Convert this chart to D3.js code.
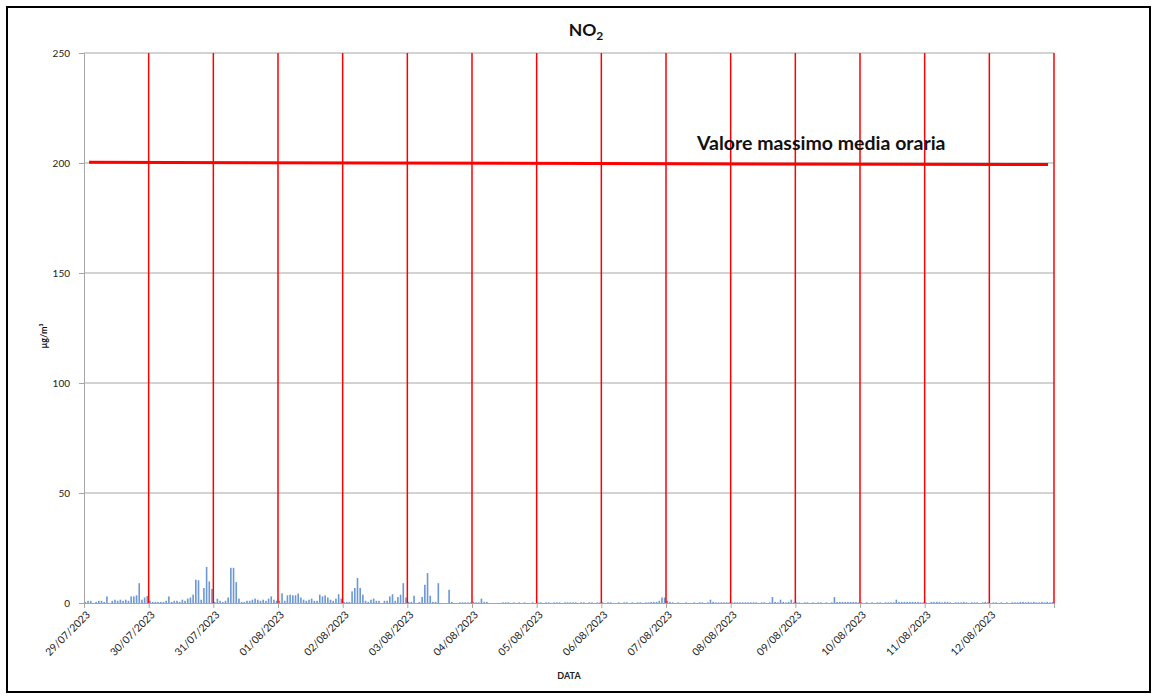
<!DOCTYPE html>
<html>
<head>
<meta charset="utf-8">
<script src="https://cdn.jsdelivr.net/npm/d3@7"></script>
<style>
  body { margin: 0; background: #fff; }
  svg text { font-family: Lato, "Open Sans", sans-serif; }
</style>
</head>
<body>
<div id="vis"></div>
<script>
'use strict';

// day labels on the x axis (one tick every midnight)
var days = ['29/07/2023','30/07/2023','31/07/2023','01/08/2023','02/08/2023','03/08/2023',
            '04/08/2023','05/08/2023','06/08/2023','07/08/2023','08/08/2023','09/08/2023',
            '10/08/2023','11/08/2023','12/08/2023'];

// hourly NO2 values (ug/m3), 24 per day, 0 = no bar
var hourly = [
  [0.5,1,1,0,0.5,1,1,0.5,3,0,1,1.5,1,1.5,1,1.5,1,3,3,3.5,9,1.5,2.5,3.2],
  [1,0.5,0.5,0.5,0.5,0.5,1,3,0.5,1,1,0.5,1.5,1,2,2.5,3.8,10.6,10.3,1.5,6.8,16.4,9.8,6.4],
  [0.5,2,1,0.5,1,2.5,16,16,9.5,2,0.5,0.5,1,1,1.5,2,1.5,1,1.5,1,2,3,1.5,1],
  [1,4.4,1,3.5,3.8,3.5,3.5,4.3,2.5,1.5,1,1.5,2,1,1,3.8,3,3.5,2.5,1.5,1,2,4,2],
  [0.5,0.5,0.5,5.3,6.8,11.4,6.8,3.8,1,0.5,1.5,2,1,1,0,1,1,3,4,1,2.7,3.8,9,2.5],
  [0.5,0.5,3.3,0,0.5,2.7,8.3,13.6,3.3,0.5,0.5,9,0,0,0,6,0.5,0,0,0.3,0.3,0.3,0.3,0.3],
  [0.5,0.3,0.3,2,0.5,0.5,0,0,0,0,0,0.3,0.3,0.3,0,0.3,0,0.3,0,0.3,0,0,0.3,0],
  [0.3,0.3,0,0.3,0.3,0,0.3,0.3,0.3,0,0.3,0.3,0.3,0.3,0.3,0,0.3,0.3,0,0.3,0.3,0,0.3,0.3],
  [0.3,0,0.3,0.3,0,0,0.3,0,0.3,0.3,0,0.3,0,0.3,0.3,0,0.3,0.3,0.5,0.5,0.5,1,2.5,2.5],
  [1,0.5,0.3,0,0.3,0,0,0.3,0,0,0.3,0,0.3,0.3,0,0.3,1.5,0.5,0.3,0.3,0.3,0.3,0.3,0.3],
  [0.3,0.3,0.3,0.3,0.3,0.3,0.3,0.3,0.3,0.3,0,0.3,0.3,0,0.3,2.7,0.5,0.3,1.5,0.5,0.3,0.5,1.5,0.3],
  [0.3,0.3,0,0.3,0.3,0,0.3,0,0.3,0.3,0,0.3,0,0.3,2.7,0.5,0.5,0.5,0.5,0.5,0.5,0.5,0.5,0.3],
  [0.3,0,0.3,0,0.3,0,0.3,0.3,0,0.3,0.3,0.3,0.3,1.5,0.5,0.5,0.5,0.5,0.5,0.5,0.5,0.5,0.3,0.3],
  [0.3,0,0.5,0.5,0.5,0.5,0.3,0.5,0.5,0.3,0,0.3,0.3,0.3,0.5,0.3,0,0.3,0.3,0.3,0,0.3,0.5,0.3],
  [0,0.3,0.3,0,0.3,0,0.3,0,0.3,0.3,0.3,0.5,0.5,0.3,0.5,0.3,0.5,0.3,0.3,0.5,0.3,0.5,0.3,0.5]
];

var yTicks = [0, 50, 100, 150, 200, 250];
var limitValues = [200.3, 199.3];   // "valore massimo media oraria" line (start, end)

var width = 1157, height = 698;
var margin = {top: 53, right: 103, bottom: 95, left: 84};

var svg = d3.select('#vis').append('svg')
  .attr('width', width)
  .attr('height', height);

// outer frame
svg.append('rect')
  .attr('x', 7).attr('y', 7)
  .attr('width', 1143).attr('height', 685)
  .attr('fill', 'none').attr('stroke', '#000').attr('stroke-width', 2);

var parse = d3.timeParse('%d/%m/%Y');
var dayDates = days.map(parse);
var start = dayDates[0];
var end = d3.timeDay.offset(dayDates[dayDates.length - 1], 1);

var x = d3.scaleTime().domain([start, end]).range([margin.left, width - margin.right]);
var y = d3.scaleLinear().domain([0, 250]).range([height - margin.bottom, margin.top]);

// horizontal grid
svg.append('g').selectAll('line')
  .data(yTicks.slice(1))
  .enter().append('line')
  .attr('x1', x.range()[0]).attr('x2', x.range()[1])
  .attr('y1', function(d){ return y(d); }).attr('y2', function(d){ return y(d); })
  .attr('stroke', '#a6a6a6').attr('stroke-width', 1);

// bars
var bars = [];
hourly.forEach(function(vals, di){
  vals.forEach(function(v, h){
    bars.push({t: d3.timeHour.offset(dayDates[di], h), v: v});
  });
});
var hourW = x(d3.timeHour.offset(start, 1)) - x(start);

svg.append('g').selectAll('rect')
  .data(bars.filter(function(d){ return d.v > 0; }))
  .enter().append('rect')
  .attr('x', function(d){ return x(d.t) + hourW * 0.2; })
  .attr('width', hourW * 0.6)
  .attr('y', function(d){ return y(d.v); })
  .attr('height', function(d){ return y(0) - y(d.v); })
  .attr('fill', '#6d98d3');

// red vertical day lines
var dayLines = dayDates.slice(1).concat([end]);
svg.append('g').selectAll('line')
  .data(dayLines)
  .enter().append('line')
  .attr('x1', function(d){ return x(d); }).attr('x2', function(d){ return x(d); })
  .attr('y1', y(250)).attr('y2', y(0))
  .attr('stroke', '#ff0000').attr('stroke-width', 1.5);

// y axis
var yAxis = d3.axisLeft(y).tickValues(yTicks).tickSize(5).tickPadding(9);
var gy = svg.append('g')
  .attr('transform', 'translate(' + margin.left + ',0)')
  .call(yAxis);
gy.select('.domain').attr('stroke', '#a6a6a6');
gy.selectAll('.tick line').attr('stroke', '#a6a6a6');
gy.selectAll('text').style('font-size', '10px').attr('fill', '#222');

// x axis
var xAxis = d3.axisBottom(x).tickValues(dayDates.concat([end]))
  .tickFormat(function(d){ return d < end ? d3.timeFormat('%d/%m/%Y')(d) : ''; })
  .tickSize(5).tickSizeOuter(0);
var gx = svg.append('g')
  .attr('transform', 'translate(0,' + y(0) + ')')
  .call(xAxis);
gx.select('.domain').attr('stroke', '#a6a6a6');
gx.selectAll('.tick line').attr('stroke', '#a6a6a6');
gx.selectAll('text')
  .style('font-size', '10.5px').attr('fill', '#222')
  .attr('text-anchor', 'end')
  .attr('transform', 'rotate(-45)')
  .attr('dx', '-0.4em').attr('dy', '0.5em');

// limit line
svg.append('line')
  .attr('x1', margin.left + 5).attr('x2', width - margin.right - 6)
  .attr('y1', y(limitValues[0])).attr('y2', y(limitValues[1]))
  .attr('stroke', '#ff0000').attr('stroke-width', 3);

svg.append('text')
  .attr('x', 697).attr('y', 150)
  .style('font-size', '19.5px').style('font-weight', 'bold')
  .attr('fill', '#111')
  .text('Valore massimo media oraria');

// title
var title = svg.append('text')
  .attr('x', 586).attr('y', 36)
  .attr('text-anchor', 'middle')
  .style('font-size', '17.5px').style('font-weight', 'bold')
  .attr('fill', '#111');
title.append('tspan').text('NO');
title.append('tspan').attr('dy', 4).style('font-size', '12px').text('2');

// axis titles
svg.append('text')
  .attr('transform', 'translate(47,336) rotate(-90)')
  .attr('text-anchor', 'middle')
  .style('font-size', '9px').style('font-weight', 'bold')
  .attr('fill', '#111')
  .text('µg/m³');

svg.append('text')
  .attr('x', 569).attr('y', 679)
  .attr('text-anchor', 'middle')
  .style('font-size', '9px').style('font-weight', 'bold')
  .attr('fill', '#222')
  .text('DATA');
</script>
</body>
</html>
